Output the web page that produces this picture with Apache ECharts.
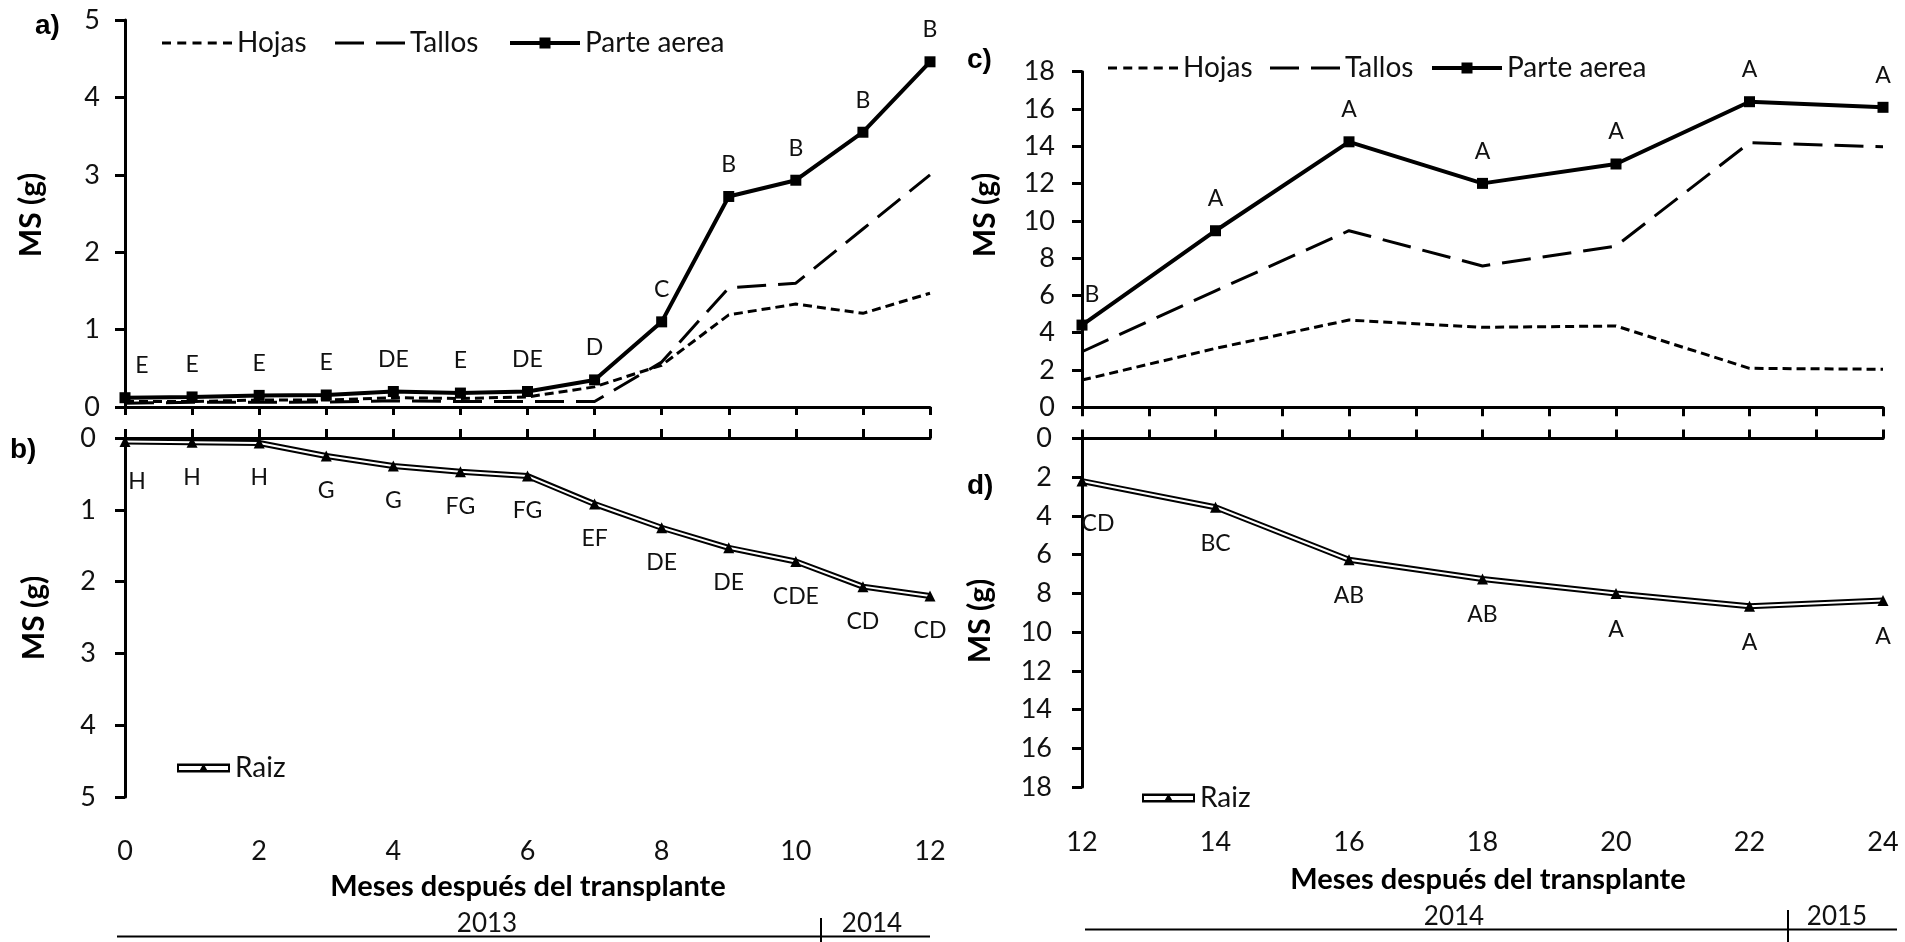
<!DOCTYPE html>
<html><head><meta charset="utf-8">
<script src="https://cdn.jsdelivr.net/npm/echarts@6/dist/echarts.min.js"></script>
<style>html,body{margin:0;padding:0;background:#fff}#c{width:1905px;height:942px}</style>
</head><body><div id="c"></div>
<script>
// ---- data ----
const monthsA = [0,1,2,3,4,5,6,7,8,9,10,11,12];
const hojasA  = [0.07,0.07,0.09,0.09,0.12,0.11,0.13,0.26,0.54,1.19,1.33,1.21,1.47];
const tallosA = [0.05,0.06,0.06,0.065,0.08,0.07,0.07,0.07,0.58,1.54,1.60,2.30,3.00];
const parteA  = [0.12,0.13,0.15,0.155,0.20,0.18,0.20,0.35,1.10,2.72,2.93,3.55,4.46];
const lettersA = ['E','E','E','E','DE','E','DE','D','C','B','B','B','B'];
const raizB   = [0.05,0.06,0.07,0.25,0.39,0.47,0.53,0.92,1.25,1.53,1.72,2.07,2.20];
const lettersB = ['H','H','H','G','G','FG','FG','EF','DE','DE','CDE','CD','CD'];
const monthsC = [12,14,16,18,20,22,24];
const hojasC  = [1.46,3.16,4.68,4.29,4.36,2.09,2.04];
const tallosC = [2.98,6.25,9.47,7.58,8.65,14.19,13.97];
const parteC  = [4.41,9.47,14.24,12.01,13.05,16.39,16.09];
const lettersC = ['B','A','A','A','A','A','A'];
const raizD   = [2.20,3.55,6.26,7.26,8.01,8.67,8.37];
const lettersD = ['CD','BC','AB','AB','A','A','A'];
const yTicksAB = {min:0, max:5, step:1};
const yTicksCD = {min:0, max:18, step:2};
const xTicksAB = {min:0, max:12, step:2};
const xTicksCD = {min:12, max:24, step:2};
const yearsAB = ['2013','2014'];
const yearsCD = ['2014','2015'];
const panelTags = ['a)','b)','c)','d)'];
const xTitle = 'Meses después del transplante';
const yTitle = 'MS (g)';

const FONT = 'Lato';
const TXT = '#111';

function pts(xs, ys, letters, off, firstOff) {
  return ys.map((v, i) => ({
    value: [xs[i], v, letters ? letters[i] : ''],
    label: letters ? { offset: i === 0 ? firstOff : off } : undefined
  }));
}
function plain(xs, ys) { return ys.map((v, i) => [xs[i], v]); }

const lbl = {
  show: true, position: 'inside', color: TXT, fontFamily: FONT, fontSize: 23,
  formatter: p => p.value[2]
};

function xAx(grid, r, pos, tickLen) {
  return {
    type: 'value', gridIndex: grid, position: pos, min: r.min, max: r.max, interval: 1,
    axisLine: { show: true, onZero: false, lineStyle: { color: '#000', width: 3 } },
    axisTick: { show: true, length: tickLen, lineStyle: { color: '#000', width: 3 } },
    axisLabel: { show: false }, splitLine: { show: false }
  };
}
function xLab(grid, r, margin) {
  return {
    type: 'value', gridIndex: grid, position: 'bottom', min: r.min, max: r.max, interval: r.step,
    axisLine: { show: false, onZero: false }, axisTick: { show: false }, splitLine: { show: false },
    axisLabel: { show: true, margin: margin, color: TXT, fontFamily: FONT, fontSize: 27 }
  };
}
function yAx(grid, r, inverse, margin) {
  return {
    type: 'value', gridIndex: grid, min: r.min, max: r.max, interval: r.step, inverse: inverse,
    axisLine: { show: true, onZero: false, lineStyle: { color: '#000', width: 3 } },
    axisTick: { show: true, length: 10, lineStyle: { color: '#000', width: 3 } },
    axisLabel: { show: true, margin: margin, color: TXT, fontFamily: FONT, fontSize: 27 },
    splitLine: { show: false }
  };
}
function leg(name, left, top, w, h, icon) {
  return {
    data: [{ name: name, icon: icon, itemStyle: { color: '#000', borderWidth: 0 } }],
    left: left, top: top, padding: 0, itemWidth: w, itemHeight: h, selectedMode: false,
    textStyle: { color: TXT, fontFamily: FONT, fontSize: 28, lineHeight: 28 }
  };
}
function tag(text, left, top) {
  return { text: text, left: left, top: top, padding: 0,
    textStyle: { fontFamily: 'Liberation Sans', fontWeight: 'bold', fontSize: 28, color: '#000', lineHeight: 28 } };
}
// legend icons (outlines of the line styles used by the series)
const iconHojas = 'path://M0,0 H9 V3 H0 Z M15.25,0 H24.25 V3 H15.25 Z M30.5,0 H39.5 V3 H30.5 Z M45.75,0 H54.75 V3 H45.75 Z M61,0 H70 V3 H61 Z';
const iconTallos = 'path://M0,0 H29 V3 H0 Z M41,0 H70 V3 H41 Z';
const iconParte = 'path://M0,5 H70 V9 H0 Z M29.5,1.5 H40.5 V12.5 H29.5 Z';
const iconRaiz = 'path://M0,0 H53 V9 H0 Z M2,2.5 V6.5 H51 V2.5 Z M21.5,9 L26.5,0 L31.5,9 Z';

const dashShort = [9, 5], dashLong = [29, 12];
function lineS(name, xi, yi, data, dash, extra) {
  return Object.assign({
    type: 'line', name: name, xAxisIndex: xi, yAxisIndex: yi, data: data,
    symbol: 'none', clip: false, silent: true,
    lineStyle: { color: '#000', width: 3, type: dash },
    itemStyle: { color: '#000' }
  }, extra || {});
}
function tx(text, x, y, font, extra) {
  return { type: 'text', x: x, y: y, style: Object.assign({ text: text, font: font, fill: '#000', textAlign: 'center', textVerticalAlign: 'middle' }, extra || {}) };
}

const option = {
  animation: false,
  backgroundColor: '#fff',
  title: [
    tag(panelTags[0], 35, 12),
    tag(panelTags[1], 10, 436),
    tag(panelTags[2], 967, 46),
    tag(panelTags[3], 967, 472)
  ],
  grid: [
    { left: 125, top: 20, width: 805, height: 387, outerBoundsMode: 'none' },
    { left: 125, top: 438, width: 805, height: 359, outerBoundsMode: 'none' },
    { left: 1082, top: 71.7, width: 801, height: 335.6, outerBoundsMode: 'none' },
    { left: 1082, top: 438.5, width: 801, height: 348.5, outerBoundsMode: 'none' }
  ],
  xAxis: [
    xAx(0, xTicksAB, 'bottom', 8),
    xAx(1, xTicksAB, 'top', 9),
    xLab(1, xTicksAB, 41),
    xAx(2, xTicksCD, 'bottom', 9),
    xAx(3, xTicksCD, 'top', 9),
    xLab(3, xTicksCD, 42)
  ],
  yAxis: [
    yAx(0, yTicksAB, false, 25),
    yAx(1, yTicksAB, true, 29),
    yAx(2, yTicksCD, false, 27),
    yAx(3, yTicksCD, true, 30)
  ],
  legend: [
    leg('Hojas', 162, 29, 70, 3, iconHojas),
    leg('Tallos', 335, 29, 70, 3, iconTallos),
    leg('Parte aerea', 510, 29, 70, 14, iconParte),
    leg('Hojas', 1108, 54, 70, 3, iconHojas),
    leg('Tallos', 1270, 54, 70, 3, iconTallos),
    leg('Parte aerea', 1432, 54, 70, 14, iconParte),
    leg('Raiz', 177, 754, 53, 9, iconRaiz),
    leg('Raiz', 1142, 784, 53, 9, iconRaiz)
  ],
  series: [
    lineS('Hojas', 0, 0, plain(monthsA, hojasA), dashShort),
    lineS('Tallos', 0, 0, plain(monthsA, tallosA), dashLong),
    lineS('Parte aerea', 0, 0, pts(monthsA, parteA, lettersA, [0, -32], [17, -32]), 'solid',
      { symbol: 'rect', symbolSize: 11, lineStyle: { color: '#000', width: 4 }, label: lbl }),
    lineS('RaizBorde', 1, 1, plain(monthsA, raizB), 'solid', { lineStyle: { color: '#000', width: 6 } }),
    lineS('Raiz', 1, 1, pts(monthsA, raizB, lettersB, [0, 35], [12, 40]), 'solid',
      { symbol: 'triangle', symbolSize: 11, lineStyle: { color: '#fff', width: 2 }, label: lbl }),
    lineS('Hojas', 3, 2, plain(monthsC, hojasC), dashShort),
    lineS('Tallos', 3, 2, plain(monthsC, tallosC), dashLong),
    lineS('Parte aerea', 3, 2, pts(monthsC, parteC, lettersC, [0, -32], [10, -30]), 'solid',
      { symbol: 'rect', symbolSize: 11, lineStyle: { color: '#000', width: 4 }, label: lbl }),
    lineS('RaizBorde', 4, 3, plain(monthsC, raizD), 'solid', { lineStyle: { color: '#000', width: 6 } }),
    lineS('Raiz', 4, 3, pts(monthsC, raizD, lettersD, [0, 36], [16, 42]), 'solid',
      { symbol: 'triangle', symbolSize: 11, lineStyle: { color: '#fff', width: 2 }, label: lbl })
  ],
  graphic: [
    Object.assign(tx(yTitle, 31, 215, 'bold 30px Lato'), { rotation: Math.PI / 2 }),
    Object.assign(tx(yTitle, 34, 618, 'bold 30px Lato'), { rotation: Math.PI / 2 }),
    Object.assign(tx(yTitle, 985, 215, 'bold 30px Lato'), { rotation: Math.PI / 2 }),
    Object.assign(tx(yTitle, 980, 621, 'bold 30px Lato'), { rotation: Math.PI / 2 }),
    tx(xTitle, 528, 887, 'bold 29px Lato'),
    tx(xTitle, 1488, 880, 'bold 29px Lato'),
    // year timeline a/b
    { type: 'line', shape: { x1: 117, y1: 936.5, x2: 930, y2: 936.5 }, style: { stroke: '#000', lineWidth: 2 } },
    { type: 'line', shape: { x1: 821, y1: 918, x2: 821, y2: 942 }, style: { stroke: '#000', lineWidth: 2 } },
    tx(yearsAB[0], 487, 924, '26px Lato', { fill: TXT }),
    tx(yearsAB[1], 872, 924, '26px Lato', { fill: TXT }),
    // year timeline c/d
    { type: 'line', shape: { x1: 1085, y1: 929.5, x2: 1897, y2: 929.5 }, style: { stroke: '#000', lineWidth: 2 } },
    { type: 'line', shape: { x1: 1788, y1: 910, x2: 1788, y2: 942 }, style: { stroke: '#000', lineWidth: 2 } },
    tx(yearsCD[0], 1454, 917, '26px Lato', { fill: TXT }),
    tx(yearsCD[1], 1837, 917, '26px Lato', { fill: TXT })
  ]
};
const chart = echarts.init(document.getElementById('c'), null, { renderer: 'canvas' });
chart.setOption(option);
</script></body></html>
